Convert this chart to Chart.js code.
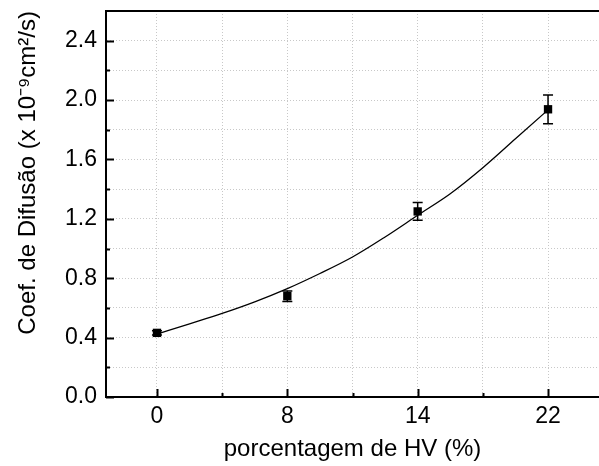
<!DOCTYPE html>
<html>
<head>
<meta charset="utf-8">
<script src="https://cdn.jsdelivr.net/npm/chart.js@4.4.1/dist/chart.umd.min.js"></script>
<style>
  html, body { margin: 0; padding: 0; background: #fff; }
  #wrap { width: 599px; height: 466px; }
</style>
</head>
<body>
<div id="wrap"><canvas id="myChart"></canvas></div>
<script>
// HV content categories (plotted evenly spaced, like the original)
var categories = ["0", "8", "14", "22"];
var diffCoef = [0.432, 0.679, 1.25, 1.938];
var diffErr = [0.015, 0.035, 0.06, 0.097];
// fitted curve, every quarter category
var fitPos = [0, 0.25, 0.5, 0.75, 1, 1.25, 1.5, 1.75, 2, 2.25, 2.5, 2.75, 3];
var fitVals = [0.424, 0.493, 0.563, 0.641, 0.73, 0.832, 0.943, 1.078, 1.224, 1.369, 1.544, 1.739, 1.934];
var yTicks = [0, 0.2, 0.4, 0.6, 0.8, 1.0, 1.2, 1.4, 1.6, 1.8, 2.0, 2.2, 2.4];
var xTicks = [0, 0.5, 1, 1.5, 2, 2.5, 3];

var FONT = "'Liberation Sans', Arial, sans-serif";

var pointData = diffCoef.map(function (v, i) { return { x: i, y: v }; });
var fitData = fitVals.map(function (v, i) { return { x: fitPos[i], y: v }; });

// error bars, inward ticks and top frame
var extras = {
    id: 'extras',
    afterDatasetsDraw: function (chart) {
        var ctx = chart.ctx;
        var xs = chart.scales.x, ys = chart.scales.y;
        var area = chart.chartArea;
        ctx.save();
        ctx.strokeStyle = '#000';
        ctx.lineWidth = 1.5;
        for (var i = 0; i < diffCoef.length; i++) {
            var px = xs.getPixelForValue(i);
            var top = ys.getPixelForValue(diffCoef[i] + diffErr[i]);
            var bot = ys.getPixelForValue(diffCoef[i] - diffErr[i]);
            ctx.beginPath();
            ctx.moveTo(px, top); ctx.lineTo(px, bot);
            ctx.moveTo(px - 5, top); ctx.lineTo(px + 5, top);
            ctx.moveTo(px - 5, bot); ctx.lineTo(px + 5, bot);
            ctx.stroke();
        }
        ctx.lineWidth = 2;
        // y ticks pointing in
        yTicks.forEach(function (v) {
            var py = Math.round(ys.getPixelForValue(v)) + 0.5;
            var len = (Math.round(v * 10) % 4 === 0) ? 8 : 4;
            ctx.beginPath();
            ctx.moveTo(area.left, py); ctx.lineTo(area.left + len, py);
            ctx.stroke();
        });
        // x ticks pointing in
        xTicks.forEach(function (v) {
            var px = Math.round(xs.getPixelForValue(v)) + 0.5;
            var len = (v % 1 === 0) ? 8 : 4;
            ctx.beginPath();
            ctx.moveTo(px, area.bottom); ctx.lineTo(px, area.bottom - len);
            ctx.stroke();
        });
        // top frame line
        ctx.beginPath();
        ctx.moveTo(area.left - 1, area.top); ctx.lineTo(area.right, area.top);
        ctx.stroke();
        ctx.restore();
    }
};

new Chart("myChart", {
    type: "scatter",
    data: {
        datasets: [{
            type: "line",
            data: fitData,
            borderColor: "#000",
            borderWidth: 1.3,
            pointRadius: 0,
            fill: false,
            tension: 0.4,
            cubicInterpolationMode: "monotone",
            order: 2
        }, {
            data: pointData,
            pointStyle: "rect",
            pointRadius: 5.9,
            backgroundColor: "#000",
            borderColor: "#000",
            borderWidth: 0,
            order: 1
        }]
    },
    plugins: [extras],
    options: {
        responsive: true,
        maintainAspectRatio: false,
        animation: false,
        layout: { autoPadding: false, padding: { top: 11, right: 0, left: 0, bottom: 0 } },
        plugins: {
            legend: { display: false },
            tooltip: { enabled: false }
        },
        scales: {
            x: {
                type: "linear",
                min: -0.391,
                max: 3.391,
                afterBuildTicks: function (axis) {
                    axis.ticks = xTicks.map(function (v) { return { value: v }; });
                },
                afterFit: function (axis) {
                    axis.height = 69;
                    axis.paddingLeft = 0;
                    axis.paddingRight = 0;
                },
                ticks: {
                    autoSkip: false,
                    maxRotation: 0,
                    padding: 6,
                    color: "#000",
                    font: { family: FONT, size: 23 },
                    callback: function (v) { return (v % 1 === 0) ? categories[v] : ""; }
                },
                grid: { color: "#c8c8c8", lineWidth: 1, drawTicks: false },
                border: { display: true, color: "#000", width: 2, dash: [1, 2] },
                title: {
                    display: true,
                    text: "porcentagem de HV (%)",
                    color: "#000",
                    font: { family: FONT, size: 24 },
                    padding: { top: 2, bottom: 2 }
                }
            },
            y: {
                type: "linear",
                min: 0,
                max: 2.6,
                afterBuildTicks: function (axis) {
                    axis.ticks = yTicks.map(function (v) { return { value: v }; });
                },
                afterFit: function (axis) {
                    axis.width = 106;
                    axis.paddingTop = 0;
                    axis.paddingBottom = 0;
                },
                ticks: {
                    autoSkip: false,
                    padding: 9,
                    color: "#000",
                    font: { family: FONT, size: 23 },
                    callback: function (v) {
                        return (Math.round(v * 10) % 4 === 0) ? v.toFixed(1) : "";
                    }
                },
                grid: { color: "#c8c8c8", lineWidth: 1, drawTicks: false },
                border: { display: true, color: "#000", width: 2, dash: [1, 2] },
                title: {
                    display: true,
                    align: "end",
                    text: "Coef. de Difusão (x 10\u207B\u2079cm\u00B2/s)",
                    color: "#000",
                    font: { family: FONT, size: 24 },
                    padding: { top: 14, bottom: 14 }
                }
            }
        }
    }
});
</script>
</body>
</html>
